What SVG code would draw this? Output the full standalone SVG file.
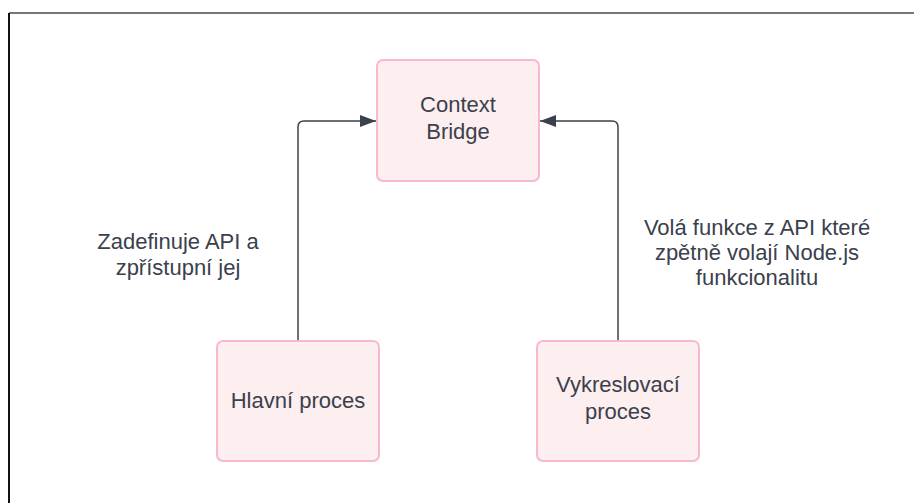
<svg xmlns="http://www.w3.org/2000/svg" width="914" height="503" viewBox="0 0 914 503">
  <defs>
    <style>
      .node rect { fill: #fdeeef; stroke: #f8b9cf; stroke-width: 2; }
      text { font-family: "Liberation Sans", Arial, sans-serif; font-size: 22px; fill: #3a414c; text-anchor: middle; }
      .conn path { fill: none; stroke: #3a414c; stroke-width: 1.5; }
    </style>
    <marker id="arrow" viewBox="0 0 16 12" refX="16" refY="6" markerWidth="16" markerHeight="12" markerUnits="userSpaceOnUse" orient="auto">
      <path d="M0,0 L16,6 L0,12 Z" fill="#3a414c"/>
    </marker>
  </defs>
  <rect x="0" y="0" width="914" height="503" fill="#ffffff"/>
  <g id="frame">
    <line x1="9" y1="13" x2="914" y2="13" stroke="#777777" stroke-width="2"/>
    <line x1="9" y1="13" x2="9" y2="503" stroke="#111111" stroke-width="2"/>
  </g>
  <g class="conn" id="connectors">
    <path d="M298,341 V127 Q298,121 304,121 H376" marker-end="url(#arrow)"/>
    <path d="M618,341 V127 Q618,121 612,121 H540" marker-end="url(#arrow)"/>
  </g>
  <g id="node-context" class="node">
    <rect x="377" y="60" width="162" height="121" rx="6"/>
    <text x="458" y="112">Context</text>
    <text x="458" y="139">Bridge</text>
  </g>
  <g id="node-hlavni" class="node">
    <rect x="217" y="341" width="162" height="120" rx="6"/>
    <text x="298" y="408">Hlavní proces</text>
  </g>
  <g id="node-vykreslovaci" class="node">
    <rect x="537" y="341" width="162" height="120" rx="6"/>
    <text x="618" y="392">Vykreslovací</text>
    <text x="618" y="419">proces</text>
  </g>
  <g id="label-left">
    <text x="178" y="249">Zadefinuje API a</text>
    <text x="178" y="275">zpřístupní jej</text>
  </g>
  <g id="label-right">
    <text x="757" y="235">Volá funkce z API které</text>
    <text x="757" y="260">zpětně volají Node.js</text>
    <text x="757" y="285">funkcionalitu</text>
  </g>
</svg>
